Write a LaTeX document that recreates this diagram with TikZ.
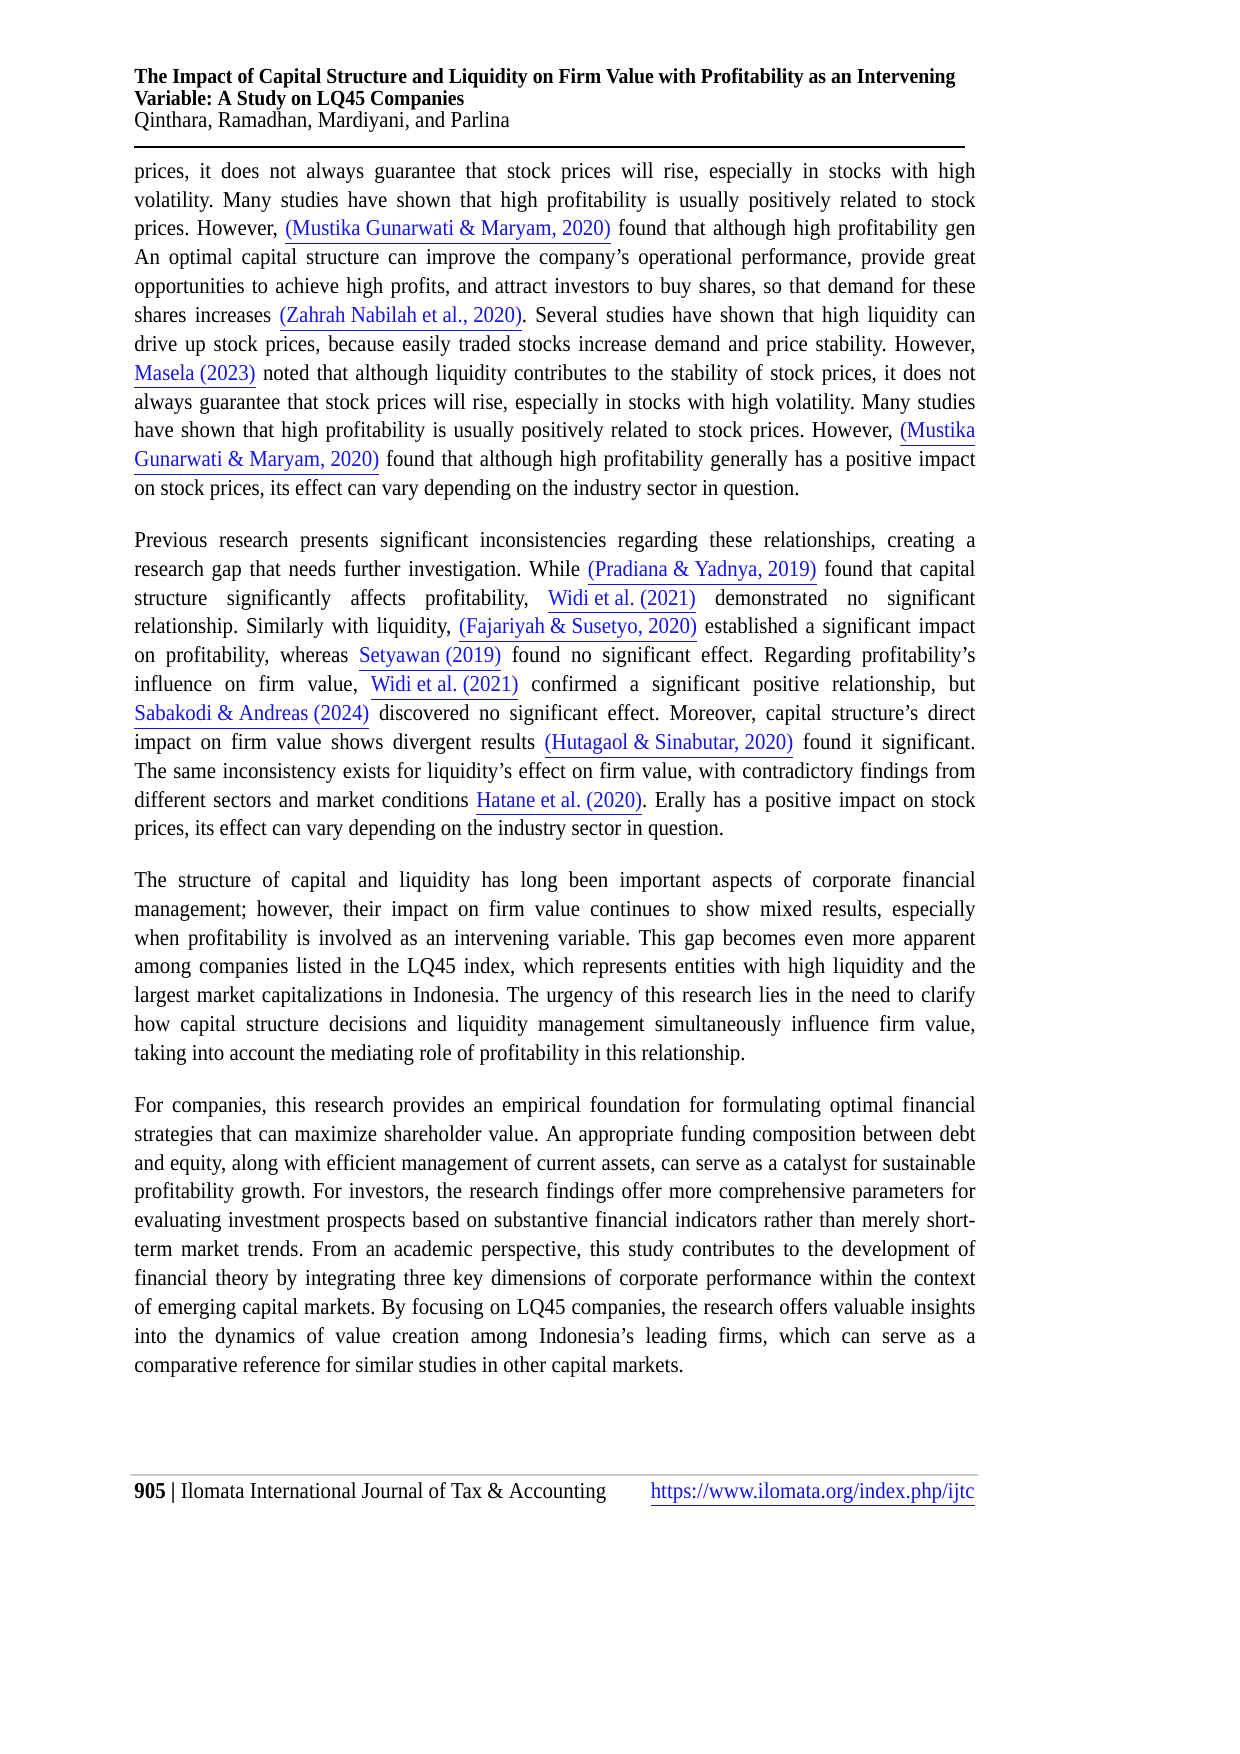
\documentclass[tikz,border=0pt]{standalone}
\usepackage{fontspec}
\setmainfont{Liberation Serif}[FakeStretch=0.92]
\definecolor{linkblue}{RGB}{20,20,230}
\newcommand{\lnk}[1]{{\color{linkblue}\underline{#1}}}
\tikzset{para/.style={anchor=north west,inner sep=0pt,text width=403.7pt,align=justify,font=\frenchspacing\fontsize{10.9}{13.85}\selectfont}}
\begin{document}
\begin{tikzpicture}[x=0.48pt,y=-0.48pt]
\useasboundingbox (0,0) rectangle (1240,1754);
\node[anchor=north west,inner sep=0pt,align=left,font=\frenchspacing\fontsize{10.9}{10.6}\selectfont] (hdr) at (134,68)
{{\fontsize{10.3}{10.6}\selectfont\textbf{The Impact of Capital Structure and Liquidity on Firm Value with Profitability as an Intervening}}\\
{\fontsize{10.3}{10.6}\selectfont\textbf{Variable: A Study on LQ45 Companies}}\\
Qinthara, Ramadhan, Mardiyani, and Parlina};
\coordinate (r1) at (134,147); \coordinate (r2) at (965,147);
\draw[line width=1pt] (r1) -- (r2);
\node[para] (p1) at (134,162) {prices, it does not always guarantee that stock prices will rise, especially in stocks with high\linebreak
volatility. Many studies have shown that high profitability is usually positively related to stock\linebreak
prices. However, \lnk{(Mustika Gunarwati \& Maryam, 2020)} found that although high profitability gen\linebreak
An optimal capital structure can improve the company's operational performance, provide great\linebreak
opportunities to achieve high profits, and attract investors to buy shares, so that demand for these\linebreak
shares increases \lnk{(Zahrah Nabilah et al., 2020)}. Several studies have shown that high liquidity can\linebreak
drive up stock prices, because easily traded stocks increase demand and price stability. However,\linebreak
\lnk{Masela (2023)} noted that although liquidity contributes to the stability of stock prices, it does not\linebreak
always guarantee that stock prices will rise, especially in stocks with high volatility. Many studies\linebreak
have shown that high profitability is usually positively related to stock prices. However, \lnk{(Mustika}\linebreak
\lnk{Gunarwati \& Maryam, 2020)} found that although high profitability generally has a positive impact\linebreak
on stock prices, its effect can vary depending on the industry sector in question.};
\node[para] (p2) at (134,531) {Previous research presents significant inconsistencies regarding these relationships, creating a\linebreak
research gap that needs further investigation. While \lnk{(Pradiana \& Yadnya, 2019)} found that capital\linebreak
structure significantly affects profitability, \lnk{Widi et al. (2021)} demonstrated no significant\linebreak
relationship. Similarly with liquidity, \lnk{(Fajariyah \& Susetyo, 2020)} established a significant impact\linebreak
on profitability, whereas \lnk{Setyawan (2019)} found no significant effect. Regarding profitability's\linebreak
influence on firm value, \lnk{Widi et al. (2021)} confirmed a significant positive relationship, but\linebreak
\lnk{Sabakodi \& Andreas (2024)} discovered no significant effect. Moreover, capital structure's direct\linebreak
impact on firm value shows divergent results \lnk{(Hutagaol \& Sinabutar, 2020)} found it significant.\linebreak
The same inconsistency exists for liquidity's effect on firm value, with contradictory findings from\linebreak
different sectors and market conditions \lnk{Hatane et al. (2020)}. Erally has a positive impact on stock\linebreak
prices, its effect can vary depending on the industry sector in question.};
\node[para] (p3) at (134,871) {The structure of capital and liquidity has long been important aspects of corporate financial\linebreak
management; however, their impact on firm value continues to show mixed results, especially\linebreak
when profitability is involved as an intervening variable. This gap becomes even more apparent\linebreak
among companies listed in the LQ45 index, which represents entities with high liquidity and the\linebreak
largest market capitalizations in Indonesia. The urgency of this research lies in the need to clarify\linebreak
how capital structure decisions and liquidity management simultaneously influence firm value,\linebreak
taking into account the mediating role of profitability in this relationship.};
\node[para] (p4) at (134,1096) {For companies, this research provides an empirical foundation for formulating optimal financial\linebreak
strategies that can maximize shareholder value. An appropriate funding composition between debt\linebreak
and equity, along with efficient management of current assets, can serve as a catalyst for sustainable\linebreak
profitability growth. For investors, the research findings offer more comprehensive parameters for\linebreak
evaluating investment prospects based on substantive financial indicators rather than merely short-\linebreak
term market trends. From an academic perspective, this study contributes to the development of\linebreak
financial theory by integrating three key dimensions of corporate performance within the context\linebreak
of emerging capital markets. By focusing on LQ45 companies, the research offers valuable insights\linebreak
into the dynamics of value creation among Indonesia's leading firms, which can serve as a\linebreak
comparative reference for similar studies in other capital markets.};
\coordinate (f1) at (130,1475); \coordinate (f2) at (978,1475);
\draw[gray!40,line width=0.6pt] (f1) -- (f2);
\node[anchor=base west,inner sep=0pt,font=\fontsize{10.9}{13}\selectfont] (foot) at (134,1498) {\textbf{905 |} Ilomata International Journal of Tax \& Accounting};
\node[anchor=base east,inner sep=0pt,font=\fontsize{10.9}{13}\selectfont] (url) at (975,1498) {\lnk{https://www.ilomata.org/index.php/ijtc}};
\end{tikzpicture}
\end{document}
